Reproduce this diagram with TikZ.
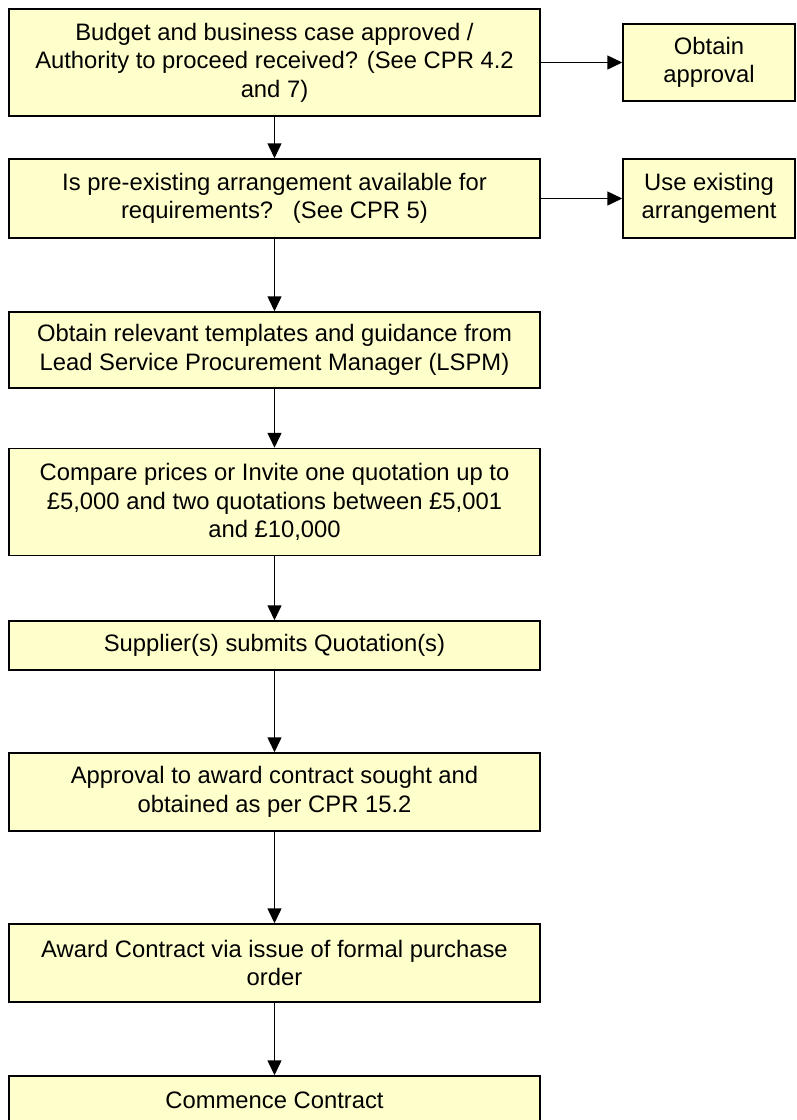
\documentclass[tikz,border=0pt]{standalone}
\usepackage{fontspec}
\setmainfont{Liberation Sans}
\usetikzlibrary{arrows.meta}
\definecolor{boxfill}{HTML}{FFFFCC}
\begin{document}
\begin{tikzpicture}[x=1pt,y=-1pt,
  stepbox/.style={draw=black, line width=1.5pt, fill=boxfill, align=center,
    inner sep=0pt, font=\fontsize{23.8}{28.5}\selectfont},
  mainbox/.style={stepbox, minimum width=531pt},
  sidebox/.style={stepbox, minimum width=172pt},
  flow/.style={draw=black, line width=1.5pt, -{Triangle[length=15pt,width=14pt]}}]
\useasboundingbox (0,0) rectangle (796,1120);
\clip (0,0) rectangle (796,1120);

% main procurement steps
\node[mainbox, minimum height=107pt] (b1) at (274.5,62.5)
  {Budget and business case approved /\\Authority to proceed received? (See CPR 4.2\\and 7)};
\node[mainbox, minimum height=79pt] (b2) at (274.5,198.5)
  {Is pre-existing arrangement available for\\requirements?\ \ \ (See CPR 5)};
\node[mainbox, minimum height=76pt] (b3) at (274.5,350)
  {Obtain relevant templates and guidance from\\Lead Service Procurement Manager (LSPM)};
\node[mainbox, minimum height=107pt] (b4) at (274.5,502)
  {Compare prices or Invite one quotation up to\\\pounds5,000 and two quotations between \pounds5,001\\and \pounds10,000};
\node[mainbox, minimum height=49pt] (b5) at (274.5,645.5)
  {Supplier(s) submits Quotation(s)};
\node[mainbox, minimum height=78pt] (b6) at (274.5,792)
  {Approval to award contract sought and\\obtained as per CPR 15.2};
\node[mainbox, minimum height=78pt] (b7) at (274.5,963)
  {Award Contract via issue of formal purchase\\order};
\node[mainbox, minimum height=49pt] (b8) at (274.5,1100.5)
  {Commence Contract};

% side outcomes
\node[sidebox, minimum height=77pt] (ob) at (709,62.5) {Obtain\\approval};
\node[sidebox, minimum height=79pt] (ue) at (709,198.5) {Use existing\\arrangement};

% connectors
\draw[flow] (b1.east) -- (ob.west);
\draw[flow] (b2.east) -- (ue.west);
\draw[flow] (b1) -- (b2);
\draw[flow] (b2) -- (b3);
\draw[flow] (b3) -- (b4);
\draw[flow] (b4) -- (b5);
\draw[flow] (b5) -- (b6);
\draw[flow] (b6) -- (b7);
\draw[flow] (b7) -- (b8);
\end{tikzpicture}
\end{document}
